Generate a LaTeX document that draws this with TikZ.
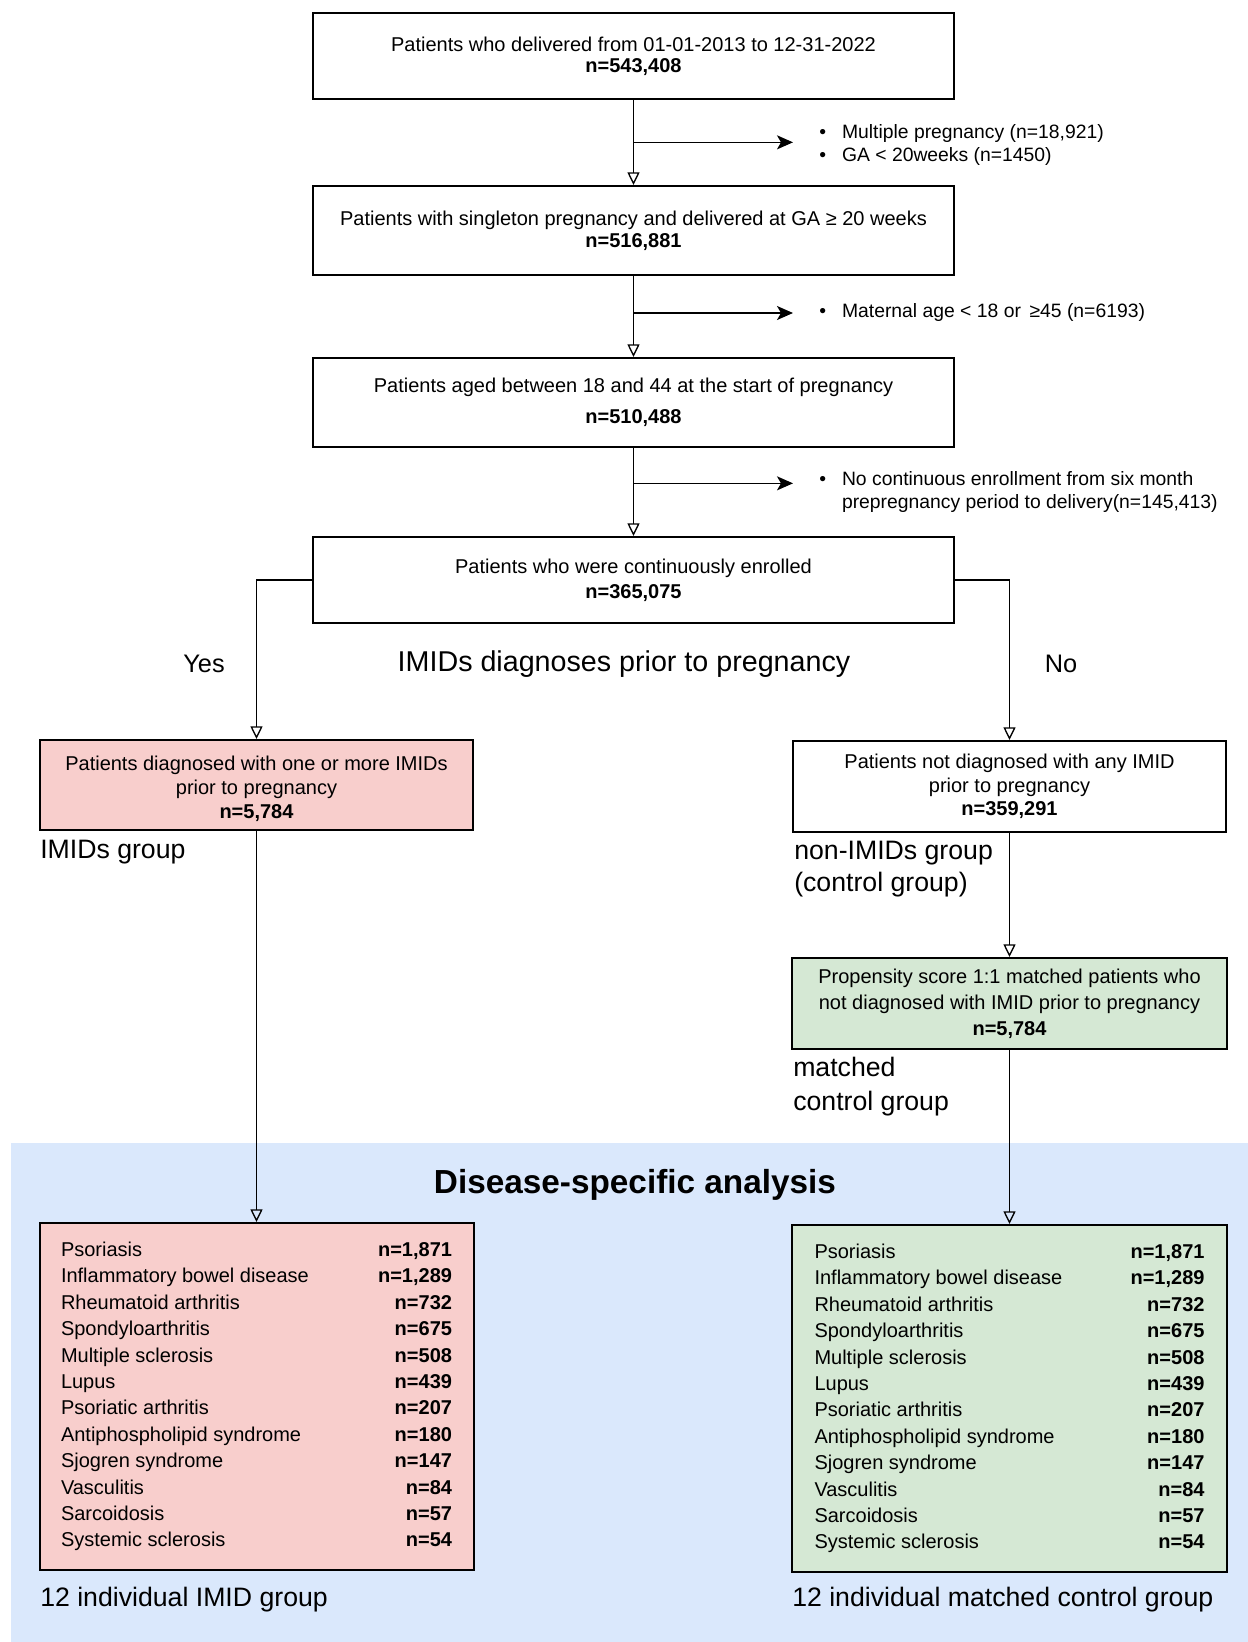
\documentclass[tikz,border=0pt]{standalone}
\usepackage{fontspec}
\setmainfont{Liberation Sans}
\usetikzlibrary{arrows.meta}
\definecolor{pinkf}{HTML}{F8CECC}
\definecolor{greenf}{HTML}{D5E8D4}
\definecolor{bluef}{HTML}{DAE8FC}
\begin{document}
\begin{tikzpicture}[x=0.75pt,y=-0.75pt,
  box/.style={draw, line width=1.5pt, align=center, inner sep=0pt, font=\fontsize{15}{16}\selectfont},
  mainbox/.style={box, minimum width=480.75pt},
  sidebox/.style={box, minimum width=324.75pt},
  listbox/.style={draw, line width=1.5pt, inner sep=0pt, minimum width=325.5pt, minimum height=260.25pt, font=\fontsize{15}{19.8}\selectfont},
  excl/.style={anchor=west, inner sep=0pt, font=\fontsize{14.5}{17.25}\selectfont},
  lbl/.style={inner sep=0pt, font=\fontsize{20}{24}\selectfont, align=left},
  varr/.style={line width=1.1pt, -{Triangle[open, length=9.5pt, width=9pt, line width=1pt]}},
  sarr/.style={line width=1.1pt, -{Stealth[length=12pt, width=10.5pt, inset=3pt]}}]
\useasboundingbox (0,0) rectangle (1248,1642);
\fill[white] (0,0) rectangle (1248,1642);
\fill[bluef] (10.5,1143) rectangle (1248,1642);

% main column
\node[mainbox, minimum height=64.5pt] (b1) at (633.5,56)
  {Patients who delivered from 01-01-2013 to 12-31-2022\\ \textbf{n=543,408}};
\node[mainbox, minimum height=66.75pt] (b2) at (633.5,230.5)
  {Patients with singleton pregnancy and delivered at GA ≥ 20 weeks\\[0.5pt] \textbf{n=516,881}};
\node[mainbox, minimum height=66.75pt] (b3) at (633.5,402.5)
  {Patients aged between 18 and 44 at the start of pregnancy\\[7pt] \textbf{n=510,488}};
\node[mainbox, minimum height=64.5pt] (b4) at (633.5,580)
  {Patients who were continuously enrolled\\[3pt] \textbf{n=365,075}};

% exclusions
\node[excl] (x1) at (819,145) {\begin{tabular}{@{}l@{\hspace{12pt}}l@{}}•&Multiple pregnancy (n=18,921)\\ •&GA < 20weeks (n=1450)\end{tabular}};
\node[excl] (x2) at (819,313) {\begin{tabular}{@{}l@{\hspace{12pt}}l@{}}•&Maternal age < 18 or \,≥45 (n=6193)\end{tabular}};
\node[excl] (x3) at (819,492) {\begin{tabular}{@{}l@{\hspace{12pt}}l@{}}•&No continuous enrollment from six month\\ &prepregnancy period to delivery(n=145,413)\end{tabular}};

\draw[varr] (b1) -- (b2);
\draw[varr] (b2) -- (b3);
\draw[varr] (b3) -- (b4);
\coordinate (j1) at ([yshift=2pt]b1.south |- x1.west);
\coordinate (e1) at ([xshift=-19.5pt, yshift=2pt]x1.west);
\coordinate (j2) at (b2.south |- x2.west);
\coordinate (e2) at ([xshift=-19.5pt]x2.west);
\coordinate (j3) at ([yshift=6.5pt]b3.south |- x3.west);
\coordinate (e3) at ([xshift=-19.5pt, yshift=6.5pt]x3.west);
\draw[sarr] (j1) -- (e1);
\draw[sarr] (j2) -- (e2);
\draw[sarr] (j3) -- (e3);

% split
\node[sidebox, fill=pinkf, minimum height=67.5pt] (b5) at (256.5,785)
  {\rule{0pt}{17pt}Patients diagnosed with one or more IMIDs\\[2pt] prior to pregnancy\\[2pt] \textbf{n=5,784}};
\node[sidebox, minimum height=68.25pt] (b6) at (1009.5,786.5)
  {Patients not diagnosed with any IMID\\[1.5pt] prior to pregnancy\\[1.5pt] \textbf{n=359,291}};
\draw[varr] (b4.west) -| (b5.north);
\draw[varr] (b4.east) -| (b6.north);

\node[inner sep=0pt, font=\fontsize{19}{24}\selectfont] (yes) at (204,664) {Yes};
\node[inner sep=0pt, font=\fontsize{21.5}{24}\selectfont] (q) at (624,664) {IMIDs diagnoses prior to pregnancy};
\node[inner sep=0pt, font=\fontsize{19}{24}\selectfont] (no) at (1061,664) {No};

\node[lbl, anchor=west] (g1) at (40,852) {IMIDs group};
\node[lbl, anchor=west, font=\fontsize{20}{24}\selectfont] (g2) at (794,869) {non-IMIDs group\\ (control group)};

\node[box, fill=greenf, minimum width=326.25pt, minimum height=68.25pt] (b7) at (1009.5,1003.5)
  {Propensity score 1:1 matched patients who\\[3.5pt] not diagnosed with IMID prior to pregnancy\\[3.5pt] \textbf{n=5,784}};
\draw[varr] (b6) -- (b7);
\node[lbl, anchor=west, font=\fontsize{20}{25.5}\selectfont] (g3) at (793,1087) {matched\\ control group};

% disease-specific analysis
\node[inner sep=0pt, font=\bfseries\fontsize{25}{30}\selectfont] (ds) at (635,1185) {Disease-specific analysis};

\node[listbox, fill=pinkf] (l1) at (256.5,1396.5) {\begin{tabular*}{293.25pt}{@{}l@{\extracolsep{\fill}}r@{}}
Psoriasis & \textbf{n=1,871}\\
Inflammatory bowel disease & \textbf{n=1,289}\\
Rheumatoid arthritis & \textbf{n=732}\\
Spondyloarthritis & \textbf{n=675}\\
Multiple sclerosis & \textbf{n=508}\\
Lupus & \textbf{n=439}\\
Psoriatic arthritis & \textbf{n=207}\\
Antiphospholipid syndrome & \textbf{n=180}\\
Sjogren syndrome & \textbf{n=147}\\
Vasculitis & \textbf{n=84}\\
Sarcoidosis & \textbf{n=57}\\
Systemic sclerosis & \textbf{n=54}
\end{tabular*}};
\node[listbox, fill=greenf, minimum width=326.25pt] (l2) at (1009.5,1398.5) {\begin{tabular*}{292.5pt}{@{}l@{\extracolsep{\fill}}r@{}}
Psoriasis & \textbf{n=1,871}\\
Inflammatory bowel disease & \textbf{n=1,289}\\
Rheumatoid arthritis & \textbf{n=732}\\
Spondyloarthritis & \textbf{n=675}\\
Multiple sclerosis & \textbf{n=508}\\
Lupus & \textbf{n=439}\\
Psoriatic arthritis & \textbf{n=207}\\
Antiphospholipid syndrome & \textbf{n=180}\\
Sjogren syndrome & \textbf{n=147}\\
Vasculitis & \textbf{n=84}\\
Sarcoidosis & \textbf{n=57}\\
Systemic sclerosis & \textbf{n=54}
\end{tabular*}};
\draw[varr] (b5) -- (l1);
\draw[varr] (b7) -- (l2);

\node[lbl, anchor=west] (g4) at (40,1600) {12 individual IMID group};
\node[lbl, anchor=west] (g5) at (792,1600) {12 individual matched control group};
\end{tikzpicture}
\end{document}
